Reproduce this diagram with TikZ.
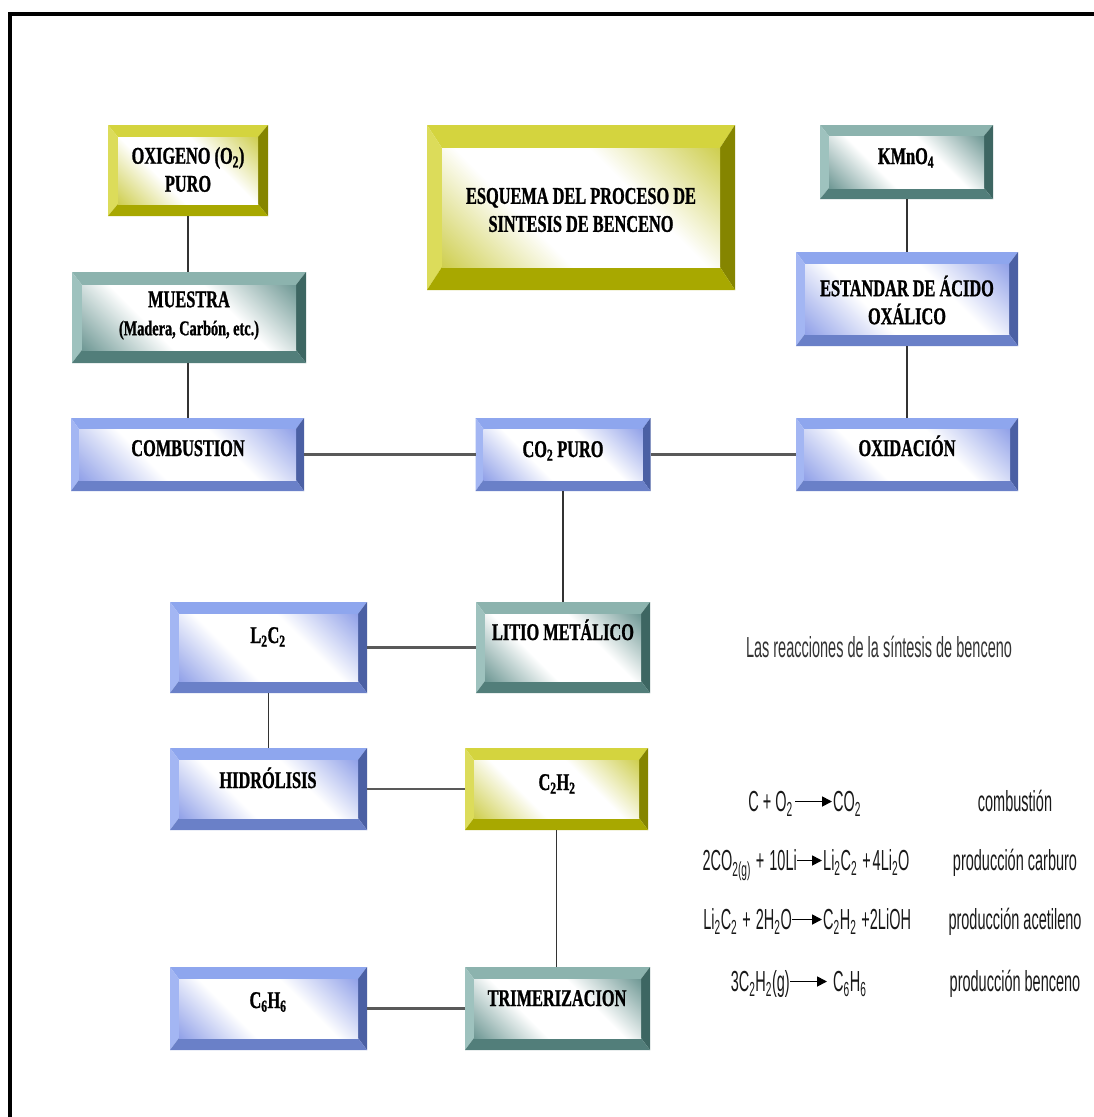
\documentclass[tikz,border=0pt]{standalone}
\usepackage{fontspec}
\usetikzlibrary{calc,arrows.meta}
\newfontfamily\boxfont{Liberation Serif}[FakeStretch=0.68,BoldFeatures={FakeBold=1.0}]
\newfontfamily\rxfont{Liberation Sans}[FakeStretch=0.5]
\definecolor{yTop}{HTML}{D4D43E}
\definecolor{yLeft}{HTML}{DCDC5A}
\definecolor{yRight}{HTML}{858500}
\definecolor{yBot}{HTML}{A8A800}
\definecolor{yFace}{HTML}{C9C93C}
\definecolor{tTop}{HTML}{8CB3AE}
\definecolor{tLeft}{HTML}{9EC2BE}
\definecolor{tRight}{HTML}{3D6662}
\definecolor{tBot}{HTML}{527E7A}
\definecolor{tFace}{HTML}{5F8D89}
\definecolor{bTop}{HTML}{8EA6EE}
\definecolor{bLeft}{HTML}{A3B6F3}
\definecolor{bRight}{HTML}{4B60A4}
\definecolor{bBot}{HTML}{6A80C8}
\definecolor{bFace}{HTML}{8597E6}
\pgfdeclarehorizontalshading{yFaceSh}{100bp}{color(0bp)=(yFace); color(12bp)=(yFace); color(38bp)=(white); color(62bp)=(white); color(88bp)=(yFace); color(100bp)=(yFace)}
\pgfdeclarehorizontalshading{tFaceSh}{100bp}{color(0bp)=(tFace); color(12bp)=(tFace); color(38bp)=(white); color(62bp)=(white); color(88bp)=(tFace); color(100bp)=(tFace)}
\pgfdeclarehorizontalshading{bFaceSh}{100bp}{color(0bp)=(bFace); color(12bp)=(bFace); color(38bp)=(white); color(62bp)=(white); color(88bp)=(bFace); color(100bp)=(bFace)}
\newcommand{\bbox}[8]{%
\node[inner sep=0pt, outer sep=0pt, minimum width=#5pt, minimum height=#6pt] (#1) at (#3,#4) {};
\coordinate (#1A) at ($(#1.north west)+(#7pt,-#8pt)$);
\coordinate (#1B) at ($(#1.south east)+(-#7pt,#8pt)$);
\fill[#2Top] (#1.north west) -- (#1.north east) -- (#1B |- #1A) -- (#1A) -- cycle;
\fill[#2Left] (#1.north west) -- (#1A) -- (#1A |- #1B) -- (#1.south west) -- cycle;
\fill[#2Right] (#1.north east) -- (#1.south east) -- (#1B) -- (#1B |- #1A) -- cycle;
\fill[#2Bot] (#1.south west) -- (#1A |- #1B) -- (#1B) -- (#1.south east) -- cycle;
\shade[shading=#2FaceSh, shading angle=45] (#1A) rectangle (#1B);
}
\begin{document}
\begin{tikzpicture}[x=1pt,y=-1pt,
  boxtxt/.style={font={\boxfont\bfseries\fontsize{24}{28}\selectfont}, inner sep=0pt, align=center, text=black},
  rx/.style={font={\rxfont\fontsize{29}{32}\selectfont}, inner sep=0pt, text=black!90},
  vlink/.style={draw=black!80, line width=1.4pt},
  hlink/.style={draw=black!65, line width=2.4pt},
  rxarrow/.style={line width=1.7pt, -{Triangle[length=10pt,width=10pt]}, shorten >=1pt}]
\useasboundingbox (0,0) rectangle (1094,1117);
\fill[white] (0,0) rectangle (1094,1117);
\draw[line width=4pt, miter limit=10] (10,1117) -- (10,14) -- (1094,14);

% boxes: name, palette, cx, cy, w, h, bevel x, bevel y
\bbox{oxi}{y}{188}{170.5}{160}{91}{10}{12}
\bbox{mue}{t}{189}{317.5}{234}{91}{10}{13}
\bbox{cmb}{b}{187.5}{454.5}{233}{73}{8}{11}
\bbox{esq}{y}{581}{207.5}{308}{165}{15}{23}
\bbox{kmn}{t}{906.5}{162}{173}{74}{9}{11}
\bbox{est}{b}{907}{299}{222}{94}{9}{12}
\bbox{oxd}{b}{907}{454.5}{222}{73}{8}{11}
\bbox{co2}{b}{563}{454.5}{175}{73}{8}{11}
\bbox{lit}{t}{563}{647.5}{174}{91}{9}{12}
\bbox{l2c}{b}{268.5}{647.5}{197}{91}{9}{12}
\bbox{hid}{b}{268.5}{789}{197}{82}{9}{12}
\bbox{c2h}{y}{556.5}{789}{183}{82}{9}{12}
\bbox{c6h}{b}{268.5}{1008.5}{197}{83}{9}{12}
\bbox{tri}{t}{557.5}{1008.5}{185}{83}{9}{12}

% connectors
\draw[vlink] (oxi.south) -- (oxi.south |- mue.north);
\draw[vlink] (oxi.south |- mue.south) -- (oxi.south |- cmb.north);
\draw[hlink] (cmb) -- (co2);
\draw[hlink] (co2) -- (oxd);
\draw[vlink] (est.south |- kmn.south) -- (est.north);
\draw[vlink] (est) -- (oxd);
\draw[vlink] (co2) -- (lit);
\draw[hlink] (lit) -- (l2c);
\draw[vlink] (l2c) -- (hid);
\draw[hlink] (hid) -- (c2h);
\draw[vlink] (c2h.south) -- (c2h.south |- tri.north);
\draw[hlink] (tri) -- (c6h);

% box texts
\node[boxtxt] (oxiT) at (188,169.5) {OXIGENO (O\textsubscript{2})\\PURO};
\node[boxtxt] (mueT) at (189,315.5) {MUESTRA\\{\fontsize{21}{28}\selectfont (Madera, Carbón, etc.)}};
\node[boxtxt, anchor=base] (cmbT) at (188,456) {COMBUSTION};
\node[boxtxt] (esqT) at (581,210) {ESQUEMA DEL PROCESO DE\\SINTESIS DE BENCENO};
\node[boxtxt, anchor=base] (kmnT) at (906,164) {KMnO\textsubscript{4}};
\node[boxtxt] (estT) at (907,300) {ESTANDAR DE ÁCIDO\\OXÁLICO};
\node[boxtxt, anchor=base] (oxdT) at (907,456) {OXIDACIÓN};
\node[boxtxt, anchor=base] (co2T) at (563,457) {CO\textsubscript{2} PURO};
\node[boxtxt, anchor=base] (litT) at (563,640) {LITIO METÁLICO};
\node[boxtxt, anchor=base] (l2cT) at (268,643) {L\textsubscript{2}C\textsubscript{2}};
\node[boxtxt, anchor=base] (hidT) at (268,788) {HIDRÓLISIS};
\node[boxtxt, anchor=base] (c2hT) at (557,790) {C\textsubscript{2}H\textsubscript{2}};
\node[boxtxt, anchor=base] (c6hT) at (268,1008) {C\textsubscript{6}H\textsubscript{6}};
\node[boxtxt, anchor=base] (triT) at (557,1006) {TRIMERIZACION};

% reactions
\node[rx, anchor=base, text=black!80] (head) at (879,657) {Las reacciones de la síntesis de benceno};

\node[rx, anchor=base east] (r1a) at (793,811) {C + O\textsubscript{2}};
\node[rx, anchor=base west] (r1b) at (833,811) {CO\textsubscript{2}};
\draw[rxarrow] ($(r1a.base east)+(2pt,9.5pt)$) -- ($(r1b.base west)+(0pt,9.5pt)$);
\node[rx, anchor=base] (l1) at (1015,811) {combustión};

\node[rx, anchor=base east] (r2a) at (797,870) {2CO\textsubscript{2(g)}\hspace{5pt}+\hspace{5pt}10Li};
\node[rx, anchor=base west] (r2b) at (823,870) {Li\textsubscript{2}C\textsubscript{2}\hspace{5pt}+\hspace{2pt}4Li\textsubscript{2}O};
\draw[rxarrow] ($(r2a.base east)+(0pt,9.5pt)$) -- ($(r2b.base west)+(0pt,9.5pt)$);
\node[rx, anchor=base] (l2) at (1015,870) {producción carburo};

\node[rx, anchor=base east] (r3a) at (792,929) {Li\textsubscript{2}C\textsubscript{2}\hspace{5pt}+\hspace{5pt}2H\textsubscript{2}O};
\node[rx, anchor=base west] (r3b) at (823,929) {C\textsubscript{2}H\textsubscript{2}\hspace{5pt}+2LiOH};
\draw[rxarrow] ($(r3a.base east)+(0pt,9.5pt)$) -- ($(r3b.base west)+(0pt,9.5pt)$);
\node[rx, anchor=base] (l3) at (1015,929) {producción acetileno};

\node[rx, anchor=base east] (r4a) at (790,991) {3C\textsubscript{2}H\textsubscript{2}(g)};
\node[rx, anchor=base west] (r4b) at (833,991) {C\textsubscript{6}H\textsubscript{6}};
\draw[rxarrow] ($(r4a.base east)+(0pt,9.5pt)$) -- ($(r4b.base west)+(-5pt,9.5pt)$);
\node[rx, anchor=base] (l4) at (1015,991) {producción benceno};
\end{tikzpicture}
\end{document}
